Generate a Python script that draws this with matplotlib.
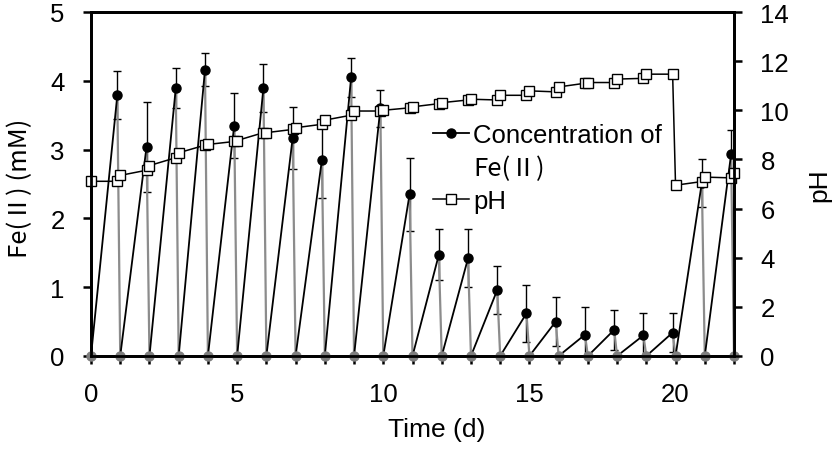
import matplotlib.pyplot as plt
from matplotlib.lines import Line2D
from matplotlib.ticker import MultipleLocator
import numpy as np

plt.rcParams['font.family'] = ['Liberation Sans', 'Noto Sans CJK JP', 'DejaVu Sans']
cjk = ['Noto Sans CJK JP', 'Liberation Sans']

# Fe(II) cycles: each day starts at 0, peak sampled ~0.9 d later
cycle_start = list(range(22))
fe_peak = [3.79, 3.04, 3.89, 4.16, 3.35, 3.90, 3.17, 2.85, 4.05, 3.60, 2.35,
           1.47, 1.42, 0.96, 0.62, 0.50, 0.31, 0.38, 0.30, 0.34, 2.52, 2.93]
fe_err = [0.35, 0.65, 0.29, 0.24, 0.47, 0.35, 0.45, 0.55, 0.28, 0.27, 0.53,
          0.37, 0.42, 0.35, 0.41, 0.36, 0.40, 0.29, 0.32, 0.28, 0.35, 0.36]
fe_time = [d + 0.9 for d in cycle_start]
zero_days = list(range(23))

ph_time = [0, 0.9, 1, 1.9, 2, 2.9, 3, 3.9, 4, 4.9, 5, 5.9, 6, 6.9, 7, 7.9, 8,
           8.9, 9, 9.9, 10, 10.9, 11, 11.9, 12, 12.9, 13, 13.9, 14, 14.9, 15,
           15.9, 16, 16.9, 17, 17.9, 18, 18.9, 19, 19.9, 20, 20.9, 21, 21.9, 22]
ph_value = [7.11, 7.11, 7.35, 7.56, 7.75, 8.07, 8.27, 8.58, 8.61, 8.73, 8.77,
            9.09, 9.09, 9.22, 9.29, 9.43, 9.60, 9.80, 9.97, 9.97, 10.00,
            10.10, 10.14, 10.27, 10.31, 10.42, 10.45, 10.42, 10.61, 10.61,
            10.79, 10.75, 10.95, 11.10, 11.13, 11.13, 11.27, 11.30, 11.47,
            11.47, 6.95, 7.10, 7.28, 7.25, 7.46]

fig = plt.figure(figsize=(8.39, 4.52), dpi=100)
ax = fig.add_axes([91/839, 1-357/452, (734-91)/839, (357-13)/452])

# rising (black) and falling (grey) segments
rx, ry, gx, gy = [], [], [], []
for d, t, p in zip(cycle_start, fe_time, fe_peak):
    rx += [d, t, np.nan]
    ry += [0, p, np.nan]
    gx += [t, d + 1, np.nan]
    gy += [p, 0, np.nan]

ax.errorbar(fe_time, fe_peak, yerr=fe_err, fmt='none', ecolor='black',
            elinewidth=1, capsize=3, capthick=1, zorder=2)
ax.plot(gx, gy, color='#8c8c8c', lw=1.6, zorder=3)
ax.plot(rx, ry, color='black', lw=1.3, zorder=4)
ax.plot(zero_days, [0] * len(zero_days), ls='none', marker='o', ms=6.5,
        color='#7f7f7f', zorder=5, clip_on=False)
ax.plot(fe_time, fe_peak, ls='none', marker='o', ms=6.5, color='black', zorder=5)

ax.set_xlim(0, 22)
ax.set_ylim(0, 5)
ax.xaxis.set_major_locator(MultipleLocator(5))
ax.xaxis.set_minor_locator(MultipleLocator(1))
ax.yaxis.set_major_locator(MultipleLocator(1))

ax2 = ax.twinx()
ax2.plot(ph_time, ph_value, color='black', lw=1.1, marker='s', ms=6.5,
         mfc='white', mec='black', mew=1, clip_on=False)
ax2.set_ylim(0, 14)
ax2.yaxis.set_major_locator(MultipleLocator(2))

for a in (ax, ax2):
    for s in a.spines.values():
        s.set_linewidth(2)
    a.tick_params(which='both', direction='out', length=6, width=1.8,
                  pad=13, labelsize=18.5)
ax.tick_params(top=False, right=False)
ax.tick_params(axis='x', pad=13)

ax.set_xlabel('Time (d)', fontsize=19, x=0.537, labelpad=8)
ax.set_ylabel('Fe(Ⅱ) (mM)', fontsize=18.5, family=cjk, labelpad=12, y=0.49)
ax2.set_ylabel('pH', fontsize=19, labelpad=13)

handles = [Line2D([], [], color='black', lw=1.3, marker='o', ms=6.5),
           Line2D([], [], color='none'),
           Line2D([], [], color='black', lw=1.1, marker='s', ms=6.5,
                  mfc='white', mec='black', mew=1)]
labels = ['Concentration of', 'Fe(Ⅱ)', 'pH']
leg = ax2.legend(handles, labels, loc='upper left', bbox_to_anchor=(0.532, 0.676),
                 frameon=False, fontsize=18.5, borderpad=0, borderaxespad=0,
                 handlelength=1.4, handletextpad=0.15, labelspacing=0.3)
leg.get_texts()[1].set_family(cjk)

fig.savefig('out.png', dpi=100)
